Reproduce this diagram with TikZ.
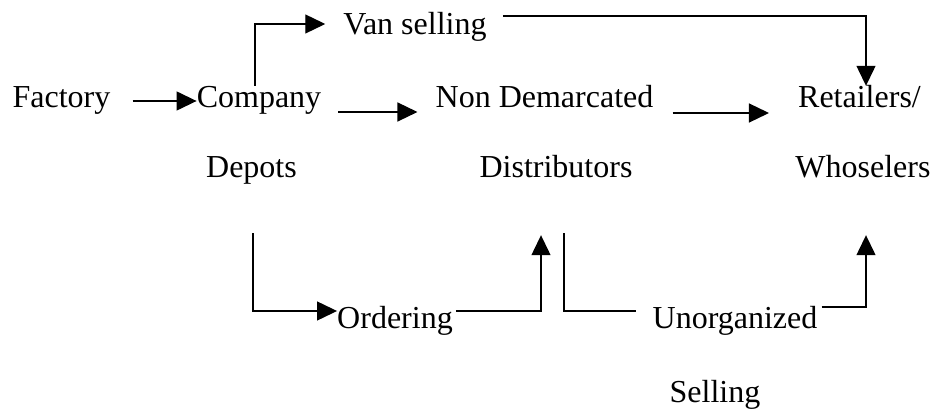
\documentclass[tikz,border=0pt]{standalone}
\usepackage{fontspec}
\setmainfont{Liberation Serif}
\usetikzlibrary{arrows.meta}

\begin{document}
\begin{tikzpicture}[x=1pt,y=1pt,
        lbl/.style={anchor=base,inner sep=0pt,text height=22pt,text depth=8pt,
            font=\fontsize{32}{38}\selectfont},
        link/.style={line width=1.3pt},
        flow/.style={link,-{Triangle[length=20pt,width=19pt]}}]
    \useasboundingbox (0,0) rectangle (937,410);

    % top row
    \node[lbl] (fac)   at (61.5,302) {Factory};
    \node[lbl] (comp)  at (259,302)  {Company};
    \node[lbl] (nd)    at (544.5,302) {Non Demarcated};
    \node[lbl] (ret)   at (859.5,302) {Retailers/};
    \node[lbl] (van)   at (415,375)  {Van selling};
    % second lines
    \node[lbl] (dep)   at (251.5,232) {Depots};
    \node[lbl] (dist)  at (556,232)  {Distributors};
    \node[lbl] (who)   at (863,232)  {Whoselers};
    % bottom row
    \node[lbl] (ord)   at (395,82)   {Ordering};
    \node[lbl] (unorg) at (735,82)   {Unorganized};
    \node[lbl] (sell)  at (715,8)    {Selling};

    % main channel
    \draw[flow] ([xshift=22pt]fac.east) -- (comp.west);
    \draw[flow] ([shift={(17pt,-11pt)}]comp.east) -- ([shift={(-18pt,-11pt)}]nd.west);
    \draw[flow] ([shift={(19pt,-12pt)}]nd.east) -- ([shift={(-29pt,-12pt)}]ret.west);

    % van selling
    \draw[flow] ([xshift=-4pt]comp.north) |- ([shift={(-18pt,4pt)}]van.west);
    \draw[flow] ([shift={(16pt,12pt)}]van.east) -| ([xshift=6.5pt]ret.north);

    % ordering and unorganized selling
    \draw[flow] ([shift={(1.5pt,-47pt)}]dep.south) |- ([yshift=10pt]ord.west);
    \draw[flow] ([shift={(3pt,10pt)}]ord.east) -| ([shift={(-15pt,-49pt)}]dist.south);
    \draw[link] ([shift={(8pt,-47pt)}]dist.south) |- ([shift={(-16pt,10pt)}]unorg.west);
    \draw[flow] ([shift={(4pt,14pt)}]unorg.east) -| ([shift={(3pt,-49pt)}]who.south);
\end{tikzpicture}
\end{document}
